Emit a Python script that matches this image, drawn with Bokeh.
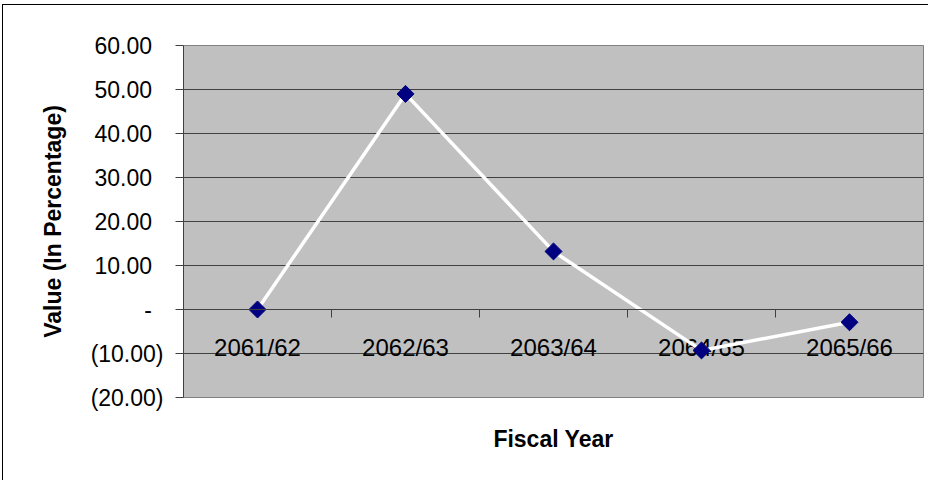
import math
from bokeh.plotting import figure
from bokeh.models import Range1d, FixedTicker, ColumnDataSource, Span
from bokeh.core.properties import value
from bokeh.embed import file_html
from bokeh.resources import INLINE

# ---- data ----
categories = ["2061/62", "2062/63", "2063/64", "2064/65", "2065/66"]
values = [0.0, 49.0, 13.2, -9.3, -2.9]
y_ticks = [-20, -10, 0, 10, 20, 30, 40, 50, 60]
y_tick_labels = ["(20.00)", "(10.00)", "-\u2002", "10.00\u2002", "20.00\u2002", "30.00\u2002",
                 "40.00\u2002", "50.00\u2002", "60.00\u2002"]
x_title = "Fiscal Year"
y_title = "Value (In Percentage)"

FONT = "Liberation Sans"
n = len(categories)
centers = [i + 0.5 for i in range(n)]
bounds = [i for i in range(1, n)]

p = figure(width=926, height=476, output_backend="svg", toolbar_location=None,
           x_range=Range1d(0, n), y_range=Range1d(min(y_ticks), max(y_ticks)),
           min_border_left=180, min_border_right=6, min_border_top=40, min_border_bottom=84,
           background_fill_color="#C0C0C0", border_fill_color="white",
           outline_line_color="#808080", outline_line_width=1,
           styles={"margin-left": "2px", "margin-top": "4px",
                   "border-left": "1px solid #000", "border-top": "1px solid #000"})

# grid
p.xgrid.visible = False
p.ygrid.ticker = FixedTicker(ticks=y_ticks)
p.ygrid.grid_line_color = "#404040"
p.ygrid.grid_line_width = 1

# y axis
p.yaxis.ticker = FixedTicker(ticks=y_ticks)
p.yaxis.major_label_overrides = {t: l for t, l in zip(y_ticks, y_tick_labels)}
p.yaxis.major_label_text_font = FONT
p.yaxis.major_label_text_font_size = "23px"
p.yaxis.major_label_text_color = "black"
p.yaxis.major_tick_out = 8
p.yaxis.major_tick_in = 0
p.yaxis.minor_tick_out = 0
p.yaxis.minor_tick_in = 0
p.yaxis.major_label_standoff = 12
p.yaxis.axis_line_color = "#404040"
p.yaxis.major_tick_line_color = "#404040"
p.yaxis.axis_label = y_title
p.yaxis.axis_label_text_font = FONT
p.yaxis.axis_label_text_font_style = "bold"
p.yaxis.axis_label_text_font_size = "23px"
p.yaxis.axis_label_text_color = "black"
p.yaxis.axis_label_standoff = 22

# x axis: only the title
p.xaxis.ticker = FixedTicker(ticks=[])
p.xaxis.axis_line_color = None
p.xaxis.major_tick_out = 0
p.xaxis.major_tick_in = 0
p.xaxis.minor_tick_out = 0
p.xaxis.major_label_text_font_size = "0px"
p.xaxis.axis_label = x_title
p.xaxis.axis_label_text_font = FONT
p.xaxis.axis_label_text_font_style = "bold"
p.xaxis.axis_label_text_font_size = "23px"
p.xaxis.axis_label_text_color = "black"
p.xaxis.axis_label_standoff = 28

# category axis crossing at zero
p.add_layout(Span(location=0, dimension="width", line_color="#404040", line_width=1))
p.ray(x=bounds, y=[0] * len(bounds), length=8, length_units="screen",
      angle=-math.pi / 2, line_color="#404040", line_width=1)
p.text(x=centers, y=[0] * n, text=categories, text_align="center", text_baseline="top",
       y_offset=24, text_font=value(FONT), text_font_size="24px", text_color="black")

src = ColumnDataSource(dict(x=centers, y=values))
p.line("x", "y", source=src, line_color="white", line_width=3.5)
p.scatter("x", "y", source=src, marker="square", angle=math.pi / 4, size=12,
          fill_color="#000080", line_color="#000080")

open("out.html", "w").write(file_html(p, INLINE))
